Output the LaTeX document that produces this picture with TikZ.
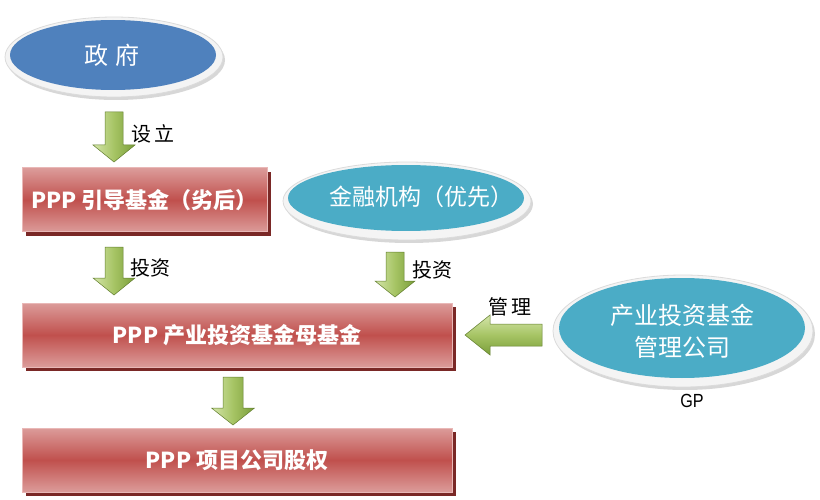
\documentclass[tikz,border=0pt]{standalone}
\usepackage{fontspec}
\setmainfont{Noto Sans CJK SC}
\newfontfamily\gpfont{Liberation Sans}
\usetikzlibrary{shapes.geometric,shadows}
\definecolor{boxred}{HTML}{C0504D}
\definecolor{boxlight}{HTML}{DC9C9A}
\definecolor{boxedge}{HTML}{E9B8B7}
\definecolor{boxshadow}{HTML}{7A2826}
\definecolor{govblue}{HTML}{4F81BD}
\definecolor{tealfill}{HTML}{4BACC6}
\definecolor{glight}{HTML}{D4E5AA}
\definecolor{gmid}{HTML}{A6C464}
\definecolor{gdark}{HTML}{7A9E3A}
\newcommand\gdarrow[7]{%
  \coordinate (#1) at (#2,#3);
  \path[gfill,left color=glight,right color=gdark,middle color=gmid]
    (#1) +(-#5/2,0) -- +(#5/2,0) -- +(#5/2,#6-#7) -- +(#4/2,#6-#7)
    -- +(0,#6) -- +(-#4/2,#6-#7) -- +(-#5/2,#6-#7) -- cycle;}
\begin{document}
\begin{tikzpicture}[x=1pt,y=-1pt,
  box/.style={rectangle, draw=boxedge, line width=1pt,
    top color=boxlight, bottom color=boxlight, middle color=boxred,
    minimum height=64pt, inner sep=0pt, text=white,
    font=\bfseries\fontsize{22}{24}\selectfont,
    drop shadow={shadow xshift=4pt, shadow yshift=-4pt, fill=boxshadow, opacity=1}},
  halo/.style={ellipse, fill=gray!9, draw=gray!28, line width=0.8pt, inner sep=0pt,
    drop shadow={shadow xshift=2pt, shadow yshift=-3pt, fill=gray!70, opacity=0.45}},
  oval/.style={ellipse, inner sep=0pt},
  ovaltext/.style={text=white, font=\fontsize{23}{31}\selectfont, align=center},
  lbl/.style={text=black, font=\fontsize{20}{22}\selectfont, inner sep=0pt},
  gfill/.style={draw=gdark!80!black, line width=0.5pt}
]
\useasboundingbox (0,0) rectangle (820,500);

% government
\node[halo, minimum width=218pt, minimum height=80pt] (govh) at (114,57) {};
\node[oval, fill=govblue, minimum width=206pt, minimum height=70pt] (gov) at (113,55) {};
\node[ovaltext, font=\fontsize{24}{28}\selectfont] (govt) at (112,55) {政\,\,府};

% financial institutions
\node[halo, minimum width=248pt, minimum height=78pt] (finh) at (407,201) {};
\node[oval, fill=tealfill, minimum width=236pt, minimum height=66pt] (fin) at (406,198) {};
\node[ovaltext] (fint) at (421,197) {金融机构（优先）};

% GP company
\node[halo, minimum width=260pt, minimum height=112pt] (gph) at (683,331) {};
\node[oval, fill=tealfill, minimum width=246pt, minimum height=100pt] (gp) at (682,328) {};
\node[ovaltext, font=\fontsize{24}{32}\selectfont] (gpt) at (682,331) {产业投资基金\\管理公司};
\node[font=\gpfont\fontsize{19}{21}\selectfont, xscale=0.85, inner sep=0pt] (gplbl) at (692,401) {GP};

% boxes
\node[box, minimum width=245pt] (b1) at (144.5,200) {PPP 引导基金（劣后）};
\node[box, minimum width=430pt] (b2) at (237,335) {PPP 产业投资基金母基金};
\node[box, minimum width=430pt] (b3) at (237,460) {PPP 项目公司股权};

% block arrows
\gdarrow{a1}{114}{112}{42}{18}{50}{17}
\gdarrow{a2}{114}{247}{42}{18}{48}{17}
\gdarrow{a3}{395}{252}{40}{18}{45}{16}
\gdarrow{a4}{233}{377}{43}{20}{48}{17}
\coordinate (a5) at (542,335);
\path[gfill, top color=glight, bottom color=gdark, middle color=gmid]
  (a5) +(0,-11) -- +(-52,-11) -- +(-52,-20) -- +(-77,0) -- +(-52,20)
  -- +(-52,11) -- +(0,11) -- cycle;

% labels
\node[lbl] (l1) at (153,134) {设\,立};
\node[lbl] (l2) at (150,268) {投资};
\node[lbl] (l3) at (432,270) {投资};
\node[lbl] (l4) at (510,307) {管\,理};
\end{tikzpicture}
\end{document}
